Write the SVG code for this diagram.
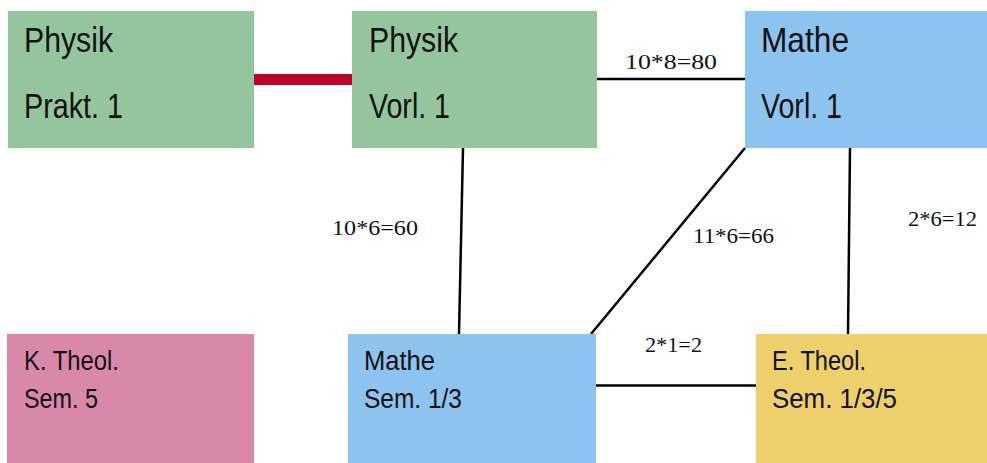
<svg xmlns="http://www.w3.org/2000/svg" width="987" height="463" viewBox="0 0 987 463">
<style>
.bg{fill:#ffffff}
.green{fill:#95c59d}
.blue{fill:#8dc3ef}
.pink{fill:#da88aa}
.yellow{fill:#edcf6b}
.big{font-family:"Liberation Sans Narrow","Liberation Sans",Arial,sans-serif;font-size:35px;fill:#111}
.small{font-family:"Liberation Sans Narrow","Liberation Sans",Arial,sans-serif;font-size:27px;fill:#111}
.lbl{font-family:"Liberation Serif","DejaVu Serif",serif;font-size:21px;fill:#111;font-variant-numeric:oldstyle-nums}
.edge{stroke:#000;stroke-width:2.5;fill:none}
.strong{stroke:#c0002a;stroke-width:11;fill:none}
</style>
<rect class="bg" x="0" y="0" width="987" height="463"/>
<g id="connectors">
<line class="strong" x1="254" y1="79.5" x2="352" y2="79.5"/>
<line class="edge" x1="597" y1="79" x2="745" y2="79"/>
<line class="edge" x1="463" y1="148" x2="459" y2="334"/>
<line class="edge" x1="745" y1="148" x2="591" y2="334"/>
<line class="edge" x1="850" y1="148" x2="848" y2="334"/>
<line class="edge" x1="596" y1="385.5" x2="756" y2="385.5"/>
<text class="lbl" x="625" y="69" textLength="92" lengthAdjust="spacingAndGlyphs">10*8=80</text>
<text class="lbl" x="332" y="235" textLength="86" lengthAdjust="spacingAndGlyphs">10*6=60</text>
<text class="lbl" x="693" y="243" textLength="81" lengthAdjust="spacingAndGlyphs">11*6=66</text>
<text class="lbl" x="908" y="226" textLength="69" lengthAdjust="spacingAndGlyphs">2*6=12</text>
<text class="lbl" x="645" y="352" textLength="57" lengthAdjust="spacingAndGlyphs">2*1=2</text>
</g>
<g id="physik-prakt">
<rect class="green" x="8" y="11" width="246" height="137"/>
<text class="big" x="24" y="52" textLength="89" lengthAdjust="spacingAndGlyphs">Physik</text>
<text class="big" x="24" y="118" textLength="99" lengthAdjust="spacingAndGlyphs">Prakt. 1</text>
</g>
<g id="physik-vorl">
<rect class="green" x="352" y="11" width="245" height="137"/>
<text class="big" x="369" y="52" textLength="89" lengthAdjust="spacingAndGlyphs">Physik</text>
<text class="big" x="369" y="118" textLength="81" lengthAdjust="spacingAndGlyphs">Vorl. 1</text>
</g>
<g id="mathe-vorl">
<rect class="blue" x="745" y="11" width="242" height="137"/>
<text class="big" x="761" y="52" textLength="88" lengthAdjust="spacingAndGlyphs">Mathe</text>
<text class="big" x="761" y="118" textLength="81" lengthAdjust="spacingAndGlyphs">Vorl. 1</text>
</g>
<g id="k-theol">
<rect class="pink" x="7" y="334" width="247" height="129"/>
<text class="small" x="24" y="370" textLength="95" lengthAdjust="spacingAndGlyphs">K. Theol.</text>
<text class="small" x="24" y="408" textLength="74" lengthAdjust="spacingAndGlyphs">Sem. 5</text>
</g>
<g id="mathe-sem">
<rect class="blue" x="348" y="334" width="248" height="129"/>
<text class="small" x="364" y="370" textLength="71" lengthAdjust="spacingAndGlyphs">Mathe</text>
<text class="small" x="364" y="408" textLength="98" lengthAdjust="spacingAndGlyphs">Sem. 1/3</text>
</g>
<g id="e-theol">
<rect class="yellow" x="756" y="334" width="231" height="129"/>
<text class="small" x="772" y="370" textLength="94" lengthAdjust="spacingAndGlyphs">E. Theol.</text>
<text class="small" x="772" y="408" textLength="125" lengthAdjust="spacingAndGlyphs">Sem. 1/3/5</text>
</g>
</svg>
